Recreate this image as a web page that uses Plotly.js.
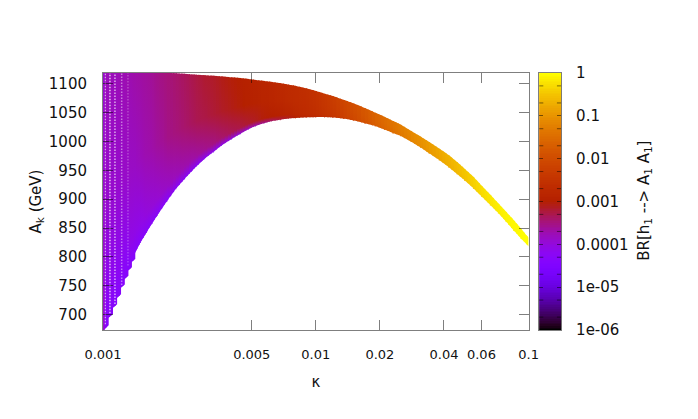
<!DOCTYPE html>
<html><head><meta charset="utf-8">
<script src="https://cdn.plot.ly/plotly-3.0.1.min.js"></script>
<style>html,body{margin:0;padding:0;background:#fff}#c{width:698px;height:419px}</style>
</head><body><div id="c"></div><script>
// kappa of each sampled column
const kappa=[.001,.00105,.0011,.00115,.0012,.00125,.0013,.00135,.0014,.0015,.0016,.0017,.0018,.0019,.002,.0022,.0024,.0026,.0028,.003,.0033,.0036,.004,.0044,.0048,.0052,.0057,.0062,.0068,.0074,.008,.009,.01,.011,.012,.0135,.015,.017,.019,.021,.023,.025,.028,.031,.034,.038,.042,.046,.05,.055,.06,.066,.072,.078,.085,.092,.1];
// upper and lower edge of the allowed A_k band in each column (GeV)
const aTop=[1121,1121,1121,1121,1121,1121,1121,1121,1121,1121,1120.5,1120,1119.5,1119.5,1119.5,1118.5,1117.7,1116.6,1115.8,1115.2,1114.2,1113.2,1111.6,1110.4,1108.7,1107,1105.2,1103.5,1101.4,1099,1096.9,1092.4,1087.9,1083.2,1079.2,1072.6,1066.4,1058.4,1050.3,1043.2,1036,1029.7,1018.6,1009,999.6,988,977,965,953,939,924,908,893,879,864,849,833];
const aBot=[672,693,710,727,745,760,775,790,803,825,842,858,872,885,897,918,934,948,960,970,982,993,1004,1013,1021,1027,1032,1035.5,1038,1040,1041,1042,1042.5,1042.5,1042,1040,1037,1032,1027,1021,1015,1010,1000,990,980,968,956,944,933,919,905,890,876,862,846,832,818];
// log10 BR[h1 -> A1 A1] read at the top, middle, near-bottom and bottom of each column
const logTop=[-3.78,-3.78,-3.78,-3.78,-3.75,-3.75,-3.72,-3.72,-3.69,-3.66,-3.63,-3.6,-3.54,-3.51,-3.48,-3.42,-3.36,-3.3,-3.24,-3.18,-3.15,-3.09,-3.03,-3,-2.94,-2.91,-2.85,-2.82,-2.76,-2.7,-2.67,-2.61,-2.52,-2.4,-2.28,-2.1,-1.98,-1.8,-1.62,-1.5,-1.38,-1.26,-1.14,-1.02,-.9,-.78,-.66,-.57,-.48,-.36,-.27,-.18,-.12,-.09,-.06,-.03,0];
const logMid=[-3.9,-3.9,-3.9,-3.9,-3.9,-3.87,-3.87,-3.84,-3.84,-3.78,-3.72,-3.69,-3.63,-3.6,-3.54,-3.48,-3.42,-3.36,-3.3,-3.27,-3.21,-3.15,-3.09,-3.03,-2.97,-2.94,-2.88,-2.85,-2.79,-2.73,-2.69,-2.64,-2.55,-2.43,-2.34,-2.16,-2.01,-1.83,-1.65,-1.53,-1.41,-1.29,-1.17,-1.05,-.93,-.81,-.69,-.6,-.51,-.39,-.3,-.21,-.15,-.09,-.06,-.03,0];
const logNear=[-4.2,-4.2,-4.2,-4.2,-4.2,-4.2,-4.2,-4.08,-4.08,-4.08,-4,-3.96,-3.93,-3.87,-3.84,-3.78,-3.72,-3.69,-3.63,-3.57,-3.51,-3.42,-3.33,-3.27,-3.18,-3.12,-3.03,-3,-2.94,-2.88,-2.79,-2.7,-2.61,-2.49,-2.4,-2.22,-2.07,-1.89,-1.71,-1.59,-1.47,-1.35,-1.2,-1.08,-.96,-.84,-.72,-.63,-.54,-.42,-.33,-.24,-.18,-.12,-.06,-.03,0];
const logBot=[-4.38,-4.38,-4.38,-4.38,-4.38,-4.38,-4.38,-4.38,-4.38,-4.38,-4.38,-4.38,-4.38,-4.38,-4.38,-4.38,-4.38,-4.38,-4.38,-4.35,-4.32,-4.26,-4.2,-4.08,-3.96,-3.78,-3.6,-3.42,-3.24,-3.12,-3,-2.85,-2.73,-2.61,-2.49,-2.31,-2.16,-1.98,-1.8,-1.65,-1.53,-1.41,-1.26,-1.14,-1.02,-.9,-.78,-.69,-.6,-.48,-.36,-.27,-.18,-.12,-.09,-.06,0];
// the pale dotted gaps between the first, widely spaced columns
const gapKappa=[.001022,.001078,.001138,.001224,.00131];
const gapFloor=[683,702,718,751,785];
const gapAlpha=[.8,.75,.65,.45,.25];
const xTicks=[.001,.005,.01,.02,.04,.06,.1];
const xLabels=['0.001','0.005','0.01','0.02','0.04','0.06','0.1'];
const yTicks=[700,750,800,850,900,950,1000,1050,1100];
const barVals=[-6,-5,-4,-3,-2,-1,0];
const barLabels=['1e-06','1e-05','0.0001','0.001','0.01','0.1','1'];

// gnuplot default pm3d palette (7,5,15)
function pal(t){t=Math.max(0,Math.min(1,t));
  const r=Math.sqrt(t),g=t*t*t,b=Math.max(0,Math.sin(2*Math.PI*t));
  return `rgb(${Math.round(255*r)},${Math.round(255*g)},${Math.round(255*b)})`;}
const col=v=>pal((v+6)/6);
const scale=[];for(let i=0;i<=60;i++)scale.push([i/60,pal(i/60)]);

const STAIR=9, FR_NEAR=.12, FR_MID=.5, SHADES=3, OVER=Math.log10(1.013);
const traces=[];
const lg=Math.log10;
for(let i=0;i<kappa.length-1;i++){
  const b2i=i<STAIR-1?aBot[i]+.35*(aBot[i+1]-aBot[i]):aBot[i+1];
  const span=lg(kappa[i+1])-lg(kappa[i]);
  // each interval between columns is shaded in a few slices so the colour runs smoothly
  for(let s=0;s<SHADES;s++){
    const f1=s/SHADES,f2=(s+1)/SHADES,fm=(f1+f2)/2;
    const last=i===kappa.length-2&&s===SHADES-1;
    const fe=last?f2:f2+OVER/span;
    const xAt=f=>Math.pow(10,lg(kappa[i])+f*span);
    const tAt=f=>aTop[i]+f*(aTop[i+1]-aTop[i]), bAt=f=>aBot[i]+f*(b2i-aBot[i]);
    const n=a=>a[i]+fm*(a[i+1]-a[i]);
    const lo=Math.min(bAt(f1),bAt(fe)), hi=Math.max(tAt(f1),tAt(fe));
    traces.push({type:'scatter',mode:'lines',x:[xAt(f1),xAt(fe),xAt(fe),xAt(f1),xAt(f1)],
      y:[bAt(f1),bAt(fe),tAt(fe),tAt(f1),bAt(f1)],
      line:{width:0,simplify:false},fill:'toself',cliponaxis:false,showlegend:false,hoverinfo:'skip',
      fillcolor:col(n(logMid)),
      fillgradient:{type:'vertical',start:lo,stop:hi,colorscale:[
        [0,col(n(logBot))],[FR_NEAR,col(n(logNear))],[FR_MID,col(n(logMid))],[1,col(n(logTop))]]}});
  }
}
gapKappa.forEach((k,i)=>traces.push({type:'scatter',mode:'lines',x:[k,k],y:[gapFloor[i],1121],
  line:{color:`rgba(255,255,255,${gapAlpha[i]})`,width:1.5,dash:'1.5px,1.5px'},
  cliponaxis:false,showlegend:false,hoverinfo:'skip'}));
// first column sticks out over the left axis
traces.push({type:'scatter',mode:'lines',x:[kappa[0],kappa[0]],y:[aBot[0],aTop[0]],
  line:{color:col(logMid[0]),width:3.5},cliponaxis:false,showlegend:false,hoverinfo:'skip'});
// lower edge points
traces.push({type:'scatter',mode:'markers',x:kappa,y:aBot,cliponaxis:false,showlegend:false,hoverinfo:'skip',
  marker:{size:1,color:logBot,coloraxis:'coloraxis',line:{width:0}}});
// colour key as its own small axes, so its ticks can sit on both sides like the reference
const barLevels=[];for(let v=-6;v<=0.001;v+=0.04)barLevels.push(+v.toFixed(2));
traces.push({type:'heatmap',xaxis:'x2',yaxis:'y2',x:[0,1],y:barLevels,z:barLevels.map(v=>[v,v]),
  coloraxis:'coloraxis',hoverinfo:'skip'});

const W=585.5; // plotting width with l=102.5,r=10
const ax='rgba(0,0,0,.5)';
const fnt=(s)=>({family:'DejaVu Sans',size:s,color:'#111'});
const shapes=[];
barVals.forEach(d=>{[Math.log10(2),-Math.log10(2)].forEach(o=>{
  const v=d+o; if(v<-6||v>0)return;
  [[0,.19],[.81,1]].forEach(r=>shapes.push({type:'line',xref:'x2',yref:'y2',
    x0:r[0],x1:r[1],y0:v,y1:v,line:{color:ax,width:1}}));
});});

const layout={width:698,height:419,margin:{l:102.5,r:10,t:73,b:88.5,pad:0},
  paper_bgcolor:'#fff',plot_bgcolor:'#fff',showlegend:false,hovermode:false,
  xaxis:{domain:[0,426/W],type:'log',range:[-3,-1],tickmode:'array',tickvals:xTicks,ticktext:xLabels,ticks:'inside',ticklen:10,
    tickcolor:ax,linecolor:ax,linewidth:1,mirror:'allticks',showgrid:false,zeroline:false,tickfont:fnt(13),
    ticklabelstandoff:12,title:{text:'κ',font:fnt(15),standoff:15}},
  yaxis:{range:[673,1119],tickmode:'array',tickvals:yTicks,ticks:'inside',ticklen:10,
    tickcolor:ax,linecolor:ax,linewidth:1,mirror:'allticks',showgrid:false,zeroline:false,tickfont:fnt(15),
    ticklabelstandoff:12,title:{text:'A<sub>k</sub> (GeV)',font:fnt(15),standoff:3}},
  xaxis2:{domain:[436.5/W,458.5/W],range:[0,1],anchor:'y2',visible:true,showticklabels:false,ticks:'',showgrid:false,zeroline:false,
    linecolor:ax,linewidth:1,mirror:true},
  yaxis2:{domain:[0,1],range:[-6,0],anchor:'x2',side:'right',tickmode:'array',tickvals:barVals,ticktext:barLabels,
    ticks:'inside',ticklen:4,tickcolor:ax,linecolor:ax,linewidth:1,mirror:'allticks',showgrid:false,zeroline:false,
    tickfont:fnt(15),ticklabelstandoff:11},
  coloraxis:{cmin:-6,cmax:0,colorscale:scale,showscale:false},
  shapes,
  annotations:[{text:'BR[h<sub>1</sub> --> A<sub>1</sub> A<sub>1</sub>]',xref:'paper',yref:'paper',x:542.5/W,y:.503,
    showarrow:false,textangle:-90,font:fnt(15),xanchor:'center',yanchor:'middle'}]};
Plotly.newPlot('c',traces,layout,{displayModeBar:false,staticPlot:true});
</script></body></html>
